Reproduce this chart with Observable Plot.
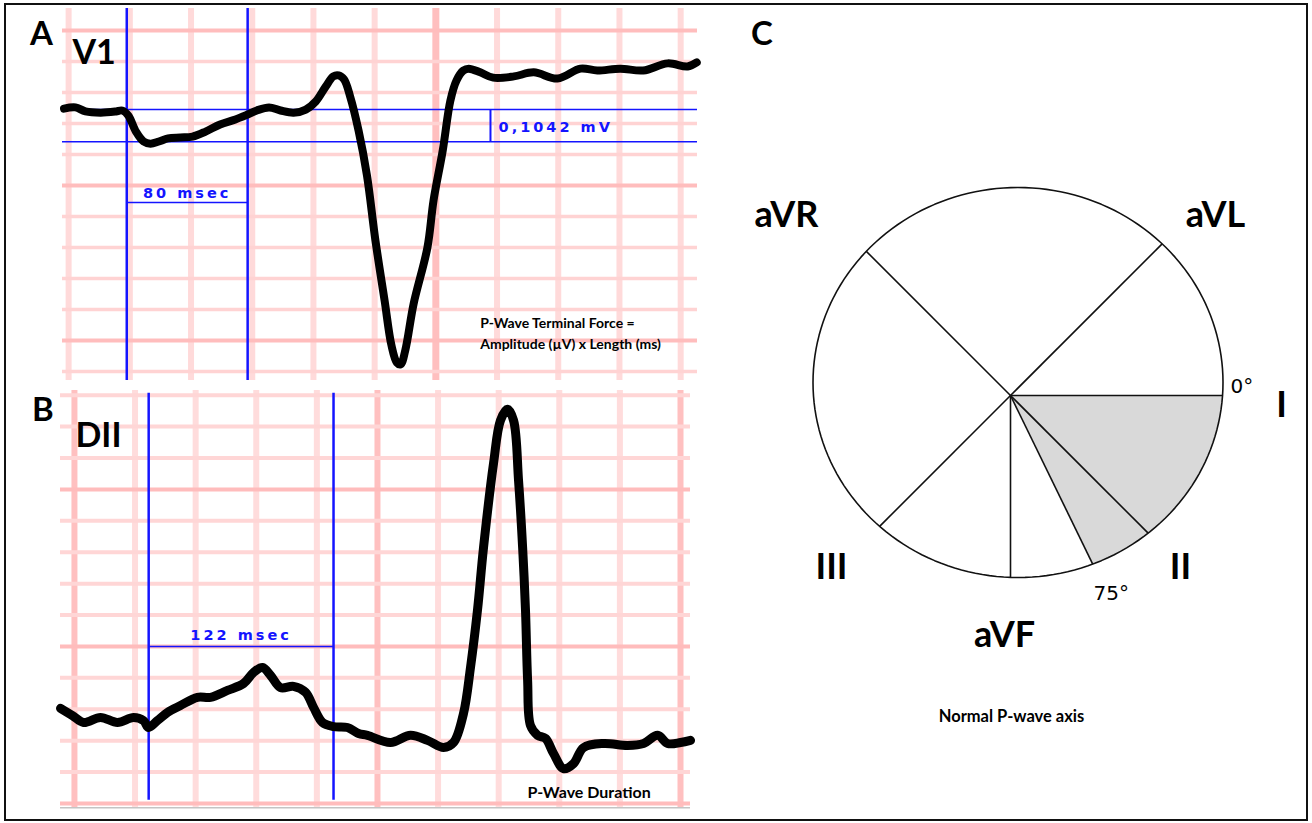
<!DOCTYPE html>
<html><head><meta charset="utf-8">
<script src="https://cdn.jsdelivr.net/npm/d3@7"></script>
<script src="https://cdn.jsdelivr.net/npm/@observablehq/plot@0.6"></script>
<style>
html,body{margin:0;padding:0;background:#fff;}
#fig{position:relative;width:1312px;height:823px;background:#fff;overflow:hidden;}
#frame{position:absolute;left:4px;top:3px;width:1304px;height:818px;border:2px solid #111;box-sizing:border-box;pointer-events:none;}
.panel{position:absolute;}
.letter{position:absolute;font-family:Lato,sans-serif;font-weight:bold;font-size:33px;line-height:1;color:#000;}
</style></head><body>
<div id="fig">
  <div id="pA" class="panel" style="left:62px;top:8px"></div>
  <div id="pB" class="panel" style="left:60px;top:390px"></div>
  <div id="pC" class="panel" style="left:700px;top:10px"></div>
  <div class="letter" style="left:30px;top:16px">A</div>
  <div class="letter" style="left:32px;top:392px">B</div>
  <div class="letter" style="left:751px;top:16px">C</div>
  <div id="frame"></div>
</div>
<script>
// ---------------- Panel A: lead V1 (time ms, amplitude mV) ----------------
const v1Time = [157, 164.5, 171, 181, 191, 195, 199, 204, 209, 213.5, 219, 225, 233, 241, 249.5, 259, 269, 277, 283, 291, 298.5, 307, 315, 321.5, 328, 333, 336.5, 340, 344, 349.5, 355, 360.5, 366.5, 371, 374.5, 377, 380, 385.5, 394.5, 398.5, 404.5, 409.5, 413.5, 418, 421.5, 429, 437.5, 451, 464, 479.5, 494.5, 505.5, 520.5, 535.5, 551.5, 564.5, 570.5];
const v1Amp = [0.048, 0.052, 0.039, 0.035, 0.039, 0.042, 0.026, -0.026, -0.058, -0.065, -0.058, -0.048, -0.045, -0.042, -0.026, -0.003, 0.013, 0.029, 0.042, 0.052, 0.042, 0.035, 0.045, 0.071, 0.119, 0.152, 0.155, 0.142, 0.087, -0.023, -0.168, -0.377, -0.571, -0.716, -0.771, -0.777, -0.732, -0.581, -0.4, -0.248, -0.087, 0.074, 0.139, 0.171, 0.177, 0.165, 0.148, 0.152, 0.165, 0.145, 0.177, 0.171, 0.177, 0.171, 0.194, 0.184, 0.197];
const gridATimeMinor = [160, 200, 240, 280, 320, 360, 440, 480, 520, 560];
const gridATimeMajor = [400];
const gridAAmpMinor = [-0.8, -0.6, -0.5, -0.4, -0.3, -0.1, 0, 0.1, 0.2];
const gridAAmpMajor = [-0.7, -0.2, 0.3];
const v1Window = [198, 277];          // 80 msec
const v1Levels = [0.045, -0.0592];    // 0,1042 mV
const v1AmpBarTime = 435.7;
const v1DurLevel = -0.255;
const v1Labels = [
  {t: 237.5, mv: -0.239, text: "80 msec"},
  {t: 441, mv: -0.011, text: "0,1042 mV"}
];
const v1Note = {t: 429, mv: -0.726, text: "P-Wave Terminal Force =\nAmplitude (µV) x Length (ms)"};

// ---------------- Panel B: lead DII ----------------
const dIITime = [190.8, 198.7, 206, 217.2, 228.4, 239, 245.6, 248.9, 254.8, 261.4, 270, 281.2, 289.8, 301, 311.6, 318.2, 324.1, 329.4, 336, 344.6, 352.5, 357.8, 363.7, 371, 380.2, 387.5, 393.4, 408.6, 421.8, 433, 443.6, 450.2, 456.8, 461.4, 466, 470, 476.6, 481.2, 485.8, 489.8, 493.1, 495.8, 497.7, 499.1, 501, 505.7, 510.9, 516.2, 522.8, 529.4, 536, 549.2, 565.1, 575.6, 584.9, 591.5, 600, 606.6];
const dIIAmp = [-0.197, -0.220, -0.242, -0.226, -0.242, -0.226, -0.236, -0.258, -0.236, -0.210, -0.188, -0.162, -0.162, -0.140, -0.118, -0.083, -0.067, -0.092, -0.131, -0.127, -0.146, -0.194, -0.242, -0.255, -0.258, -0.277, -0.283, -0.306, -0.283, -0.299, -0.322, -0.306, -0.213, -0.067, 0.115, 0.315, 0.583, 0.720, 0.755, 0.720, 0.529, 0.315, 0.115, -0.108, -0.252, -0.283, -0.293, -0.341, -0.389, -0.373, -0.322, -0.309, -0.315, -0.309, -0.283, -0.309, -0.306, -0.299];
const gridBTimeMinor = [240, 280, 320, 360, 440, 480, 520, 560];
const gridBTimeMajor = [200, 400, 600];
const gridBAmpMinor = [-0.4, -0.3, -0.2, -0.1, 0.1, 0.2, 0.3, 0.4, 0.6, 0.7, 0.8];
const gridBAmpMajor = [-0.5, 0, 0.5];
const dIIWindow = [249, 371];         // 122 msec
const dIIDurLevel = 0;
const dIILabels = [
  {t: 310, mv: 0.019, text: "122 msec"}
];
const dIINote = {t: 499, mv: -0.481, text: "P-Wave Duration"};

// ---------------- Panel C: hexaxial reference ----------------
const leadNames  = ["I", "II", "aVF", "III", "aVR", "aVL"];
const leadAngles = [0, 45, 90, 135, 225, 315];   // drawn directions (deg, clockwise)
const limitAngles = [0, 64];                     // shaded normal range, 0° .. 75° marker
const leadLabelX = [271, 170, -6, -179, -224, 205];
const leadLabelY = [10, 172, 240, 172, -180, -180];
const degreeLabels = [{x: 220, y: -9, text: "0°"}, {x: 83, y: 198, text: "75°"}];
const captionC = {x: 1, y: 321, text: "Normal P-wave axis"};
const ellipse = {cx: 7.5, cy: -13, rx: 205, ry: 195};

const blue = "#1414ff";
const v1 = v1Time.map((t, i) => ({t, mv: v1Amp[i]}));
const dII = dIITime.map((t, i) => ({t, mv: dIIAmp[i]}));
const bold = {fontFamily: "Lato", fontWeight: "bold"};
const blueTxt = {fontFamily: "DejaVu Sans", fontWeight: "bold", fontSize: 14.5, fill: blue};
const st = {background: "transparent", overflow: "visible"};

const plotA = Plot.plot({
  width: 635, height: 372, margin: 0, style: st,
  x: {domain: [156, 571], axis: null},
  y: {domain: [-0.829, 0.371], axis: null},
  marks: [
    Plot.ruleX(gridATimeMinor, {stroke: "#ffdada", strokeWidth: 6}),
    Plot.ruleX(gridATimeMajor, {stroke: "#ffbfbf", strokeWidth: 7}),
    Plot.ruleY(gridAAmpMinor, {stroke: "#ffd3d3", strokeWidth: 3.5}),
    Plot.ruleY(gridAAmpMajor, {stroke: "#ffbdbd", strokeWidth: 4}),
    Plot.ruleY(v1Levels, {stroke: blue, strokeWidth: 1.5}),
    Plot.ruleX(v1Window, {stroke: blue, strokeWidth: 2.5}),
    Plot.ruleX([v1AmpBarTime], {y1: v1Levels[0], y2: v1Levels[1], stroke: blue, strokeWidth: 2}),
    Plot.ruleY([v1DurLevel], {x1: v1Window[0], x2: v1Window[1], stroke: blue, strokeWidth: 1.5}),
    Plot.text(v1Labels.slice(0, 1), {x: "t", y: "mv", text: "text", textAnchor: "middle", lineAnchor: "bottom", ...blueTxt}),
    Plot.text(v1Labels.slice(1), {x: "t", y: "mv", text: "text", textAnchor: "start", lineAnchor: "middle", ...blueTxt}),
    Plot.line(v1, {x: "t", y: "mv", curve: "catmull-rom", stroke: "#000", strokeWidth: 8, strokeLinejoin: "round", strokeLinecap: "round"}),
    Plot.text(["V1"], {text: d => d, frameAnchor: "top-left", dx: 10, dy: 31, fontSize: 34, fill: "#000", ...bold}),
    Plot.text([v1Note], {x: "t", y: "mv", text: "text", textAnchor: "start", lineAnchor: "bottom", lineHeight: 1.5, fontSize: 14, fill: "#000", ...bold})
  ]
});

const plotB = Plot.plot({
  width: 630, height: 418, margin: 0, style: st,
  x: {domain: [190.8, 606.6], axis: null},
  y: {domain: [-0.516, 0.815], axis: null},
  marks: [
    Plot.ruleX(gridBTimeMinor, {stroke: "#ffdcdc", strokeWidth: 6}),
    Plot.ruleX(gridBTimeMajor, {stroke: "#ffc0c0", strokeWidth: 6}),
    Plot.ruleY(gridBAmpMinor, {stroke: "#ffd6d6", strokeWidth: 4}),
    Plot.ruleY(gridBAmpMajor, {stroke: "#ffbcbc", strokeWidth: 4}),
    Plot.ruleY([-0.5135], {stroke: "#c4c4c4", strokeWidth: 1.5}),
    Plot.ruleX(dIIWindow, {y1: -0.49, y2: 0.806, stroke: blue, strokeWidth: 2.5}),
    Plot.ruleY([dIIDurLevel], {x1: dIIWindow[0], x2: dIIWindow[1], stroke: blue, strokeWidth: 1.5}),
    Plot.text(dIILabels, {x: "t", y: "mv", text: "text", textAnchor: "middle", lineAnchor: "bottom", ...blueTxt}),
    Plot.line(dII, {x: "t", y: "mv", curve: "catmull-rom", stroke: "#000", strokeWidth: 9, strokeLinejoin: "round", strokeLinecap: "round"}),
    Plot.text(["DII"], {text: d => d, frameAnchor: "top-left", dx: 15, dy: 32, fontSize: 34, fill: "#000", ...bold}),
    Plot.text([dIINote], {x: "t", y: "mv", text: "text", textAnchor: "start", lineAnchor: "bottom", fontSize: 16, fill: "#000", ...bold})
  ]
});

// ray / ellipse intersection (geometry of the drawn circle)
function rimRadius(deg) {
  const a = deg * Math.PI / 180, c = Math.cos(a), s = Math.sin(a);
  const {cx, cy, rx, ry} = ellipse;
  const A = c * c / (rx * rx) + s * s / (ry * ry);
  const B = -2 * (c * cx / (rx * rx) + s * cy / (ry * ry));
  const C = cx * cx / (rx * rx) + cy * cy / (ry * ry) - 1;
  return (-B + Math.sqrt(B * B - 4 * A * C)) / (2 * A);
}
function rim(deg) {
  const r = rimRadius(deg), a = deg * Math.PI / 180;
  return {x: r * Math.cos(a), y: r * Math.sin(a)};
}
const outline = d3.range(0, 361, 2).map(d => ({
  x: ellipse.cx + ellipse.rx * Math.cos(d * Math.PI / 180),
  y: ellipse.cy + ellipse.ry * Math.sin(d * Math.PI / 180)
}));
const wedge = [{x: 0, y: 0}, ...d3.range(limitAngles[0], limitAngles[1] + 0.5, 1).map(rim), {x: 0, y: 0}];
const spokes = [...leadAngles, limitAngles[1]].map(a => ({a, ...rim(a)}));
const leads = leadNames.map((name, i) => ({name, x: leadLabelX[i], y: leadLabelY[i]}));

const plotC = Plot.plot({
  width: 600, height: 800, margin: 0, style: st,
  x: {domain: [-310, 290], axis: null},
  y: {domain: [-385, 415], reverse: true, axis: null},
  marks: [
    Plot.line(wedge, {x: "x", y: "y", fill: "#d9d9d9", stroke: "none"}),
    Plot.link(spokes, {x1: 0, y1: 0, x2: "x", y2: "y", stroke: "#111", strokeWidth: 1.6}),
    Plot.line(outline, {x: "x", y: "y", stroke: "#111", strokeWidth: 1.6}),
    Plot.text(leads, {x: "x", y: "y", text: "name", fontSize: 36, fill: "#000", lineAnchor: "middle", ...bold}),
    Plot.text(degreeLabels, {x: "x", y: "y", text: "text", textAnchor: "start", lineAnchor: "middle", fontFamily: "DejaVu Sans", fontSize: 20, fill: "#000"}),
    Plot.text([captionC], {x: "x", y: "y", text: "text", lineAnchor: "middle", fontSize: 16.5, fill: "#000", ...bold})
  ]
});

document.getElementById("pA").appendChild(plotA);
document.getElementById("pB").appendChild(plotB);
document.getElementById("pC").appendChild(plotC);
for (const svg of [plotA, plotB]) {
  d3.select(svg).selectAll("text")
    .filter(function () { return /msec|mV$/.test(this.textContent); })
    .style("letter-spacing", "3px");
}
</script>
</body></html>
